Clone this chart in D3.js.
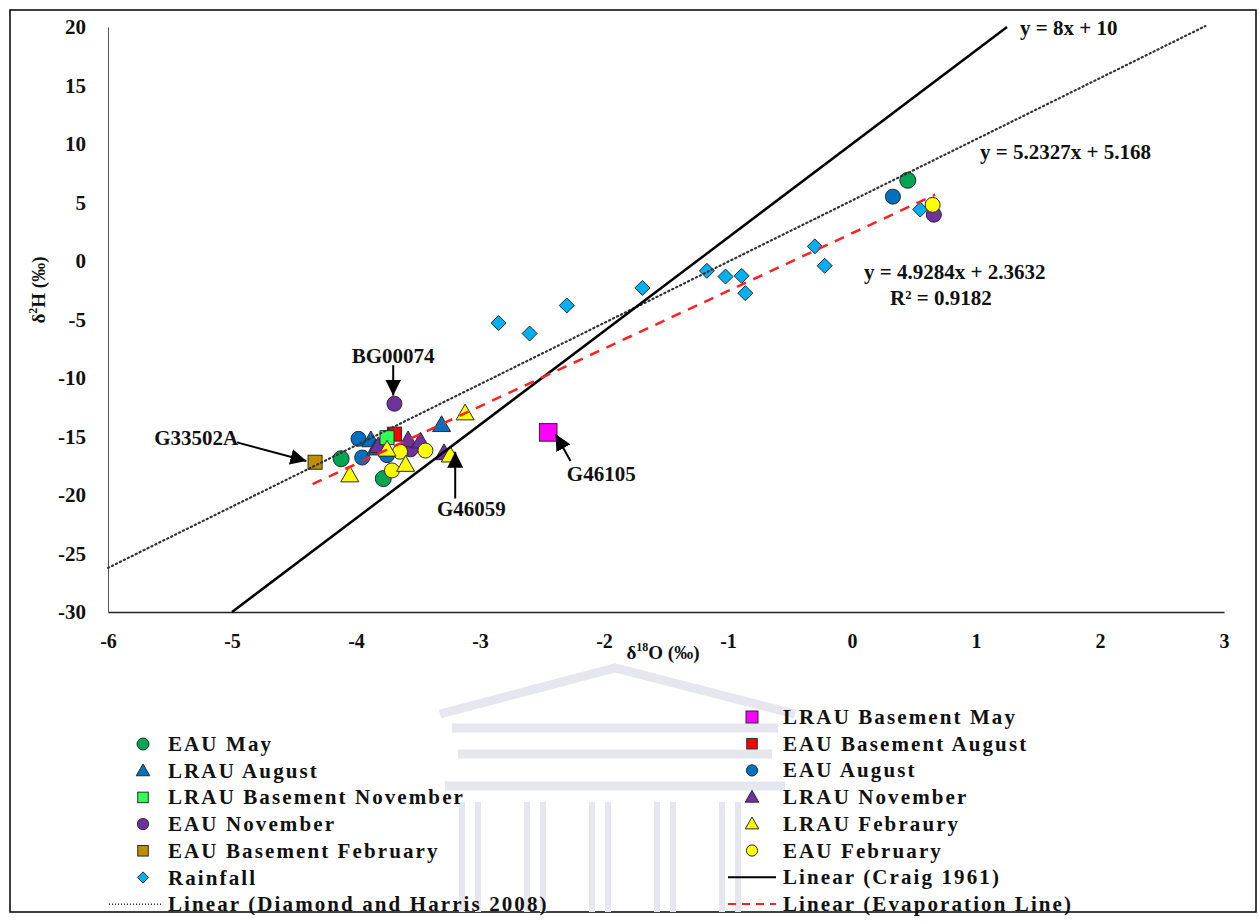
<!DOCTYPE html>
<html>
<head>
<meta charset="utf-8">
<script src="https://cdn.jsdelivr.net/npm/d3@7/dist/d3.min.js"></script>
<style>
  body { margin: 0; background: #fff; }
  svg text { font-family: "Liberation Serif", "Times New Roman", serif; font-weight: bold; fill: #111; }
</style>
</head>
<body>
<svg id="chart" width="1259" height="924"></svg>
<script>
// --- data (δ18O, δ2H) ---
const xTicks = [-6, -5, -4, -3, -2, -1, 0, 1, 2, 3];
const yTicks = [20, 15, 10, 5, 0, -5, -10, -15, -20, -25, -30];

const eauMay = [[-4.12, -16.9], [-3.78, -18.6], [0.45, 6.9]];
const lrauAug = [[-3.88, -15.3], [-3.84, -16.0], [-3.31, -14.0]];
const lrauBaseNov = [[-3.75, -15.1]];
const eauNov = [[-3.69, -12.2], [-3.56, -16.1], [0.66, 3.96]];
const eauBaseFeb = [[-4.33, -17.2]];
const rainfall = [[-2.85, -5.3], [-2.6, -6.2], [-2.3, -3.8], [-1.69, -2.3], [-1.17, -0.84],
                  [-1.02, -1.33], [-0.89, -1.27], [-0.86, -2.75], [-0.3, 1.25], [-0.22, -0.41], [0.55, 4.4]];
const lrauBaseMay = [[-2.45, -14.65]];
const eauBaseAug = [[-3.69, -14.8]];
const eauAug = [[-3.98, -15.2], [-3.95, -16.8], [-3.75, -16.6], [0.33, 5.5]];
const lrauNov = [[-3.82, -15.8], [-3.58, -15.3], [-3.48, -15.4], [-3.29, -16.4]];
const lrauFeb = [[-4.05, -18.3], [-3.75, -16.1], [-3.6, -17.4], [-3.12, -13.0], [-3.24, -16.6]];
const eauFeb = [[-3.71, -17.9], [-3.645, -16.3], [-3.44, -16.2], [0.65, 4.8]];

// reference lines: slope, intercept, x range
const craig = { m: 8, b: 10, x: [-5, 1.25] };
const diamond = { m: 5.2327, b: 5.168, x: [-6, 2.85] };
const evap = { m: 4.9284, b: 2.3632, x: [-4.35, 0.67] };

// annotations: label, text anchor point, arrow tail, arrow tip (data units)
const notes = [
  { label: 'BG00074', anchor: 'middle', t: [-3.70, -8.7], a: [-3.70, -8.9], b: [-3.70, -11.5] },
  { label: 'G33502A', anchor: 'end', t: [-4.95, -15.7], a: [-4.96, -15.5], b: [-4.40, -17.1] },
  { label: 'G46059', anchor: 'middle', t: [-3.07, -21.8], a: [-3.20, -20.3], b: [-3.20, -16.3] },
  { label: 'G46105', anchor: 'start', t: [-2.30, -18.8], a: [-2.27, -17.1], b: [-2.39, -14.8] }
];

const svg = d3.select('#chart');

// outer frame
svg.append('rect').attr('x', 10).attr('y', 10).attr('width', 1246).attr('height', 902)
  .attr('fill', 'none').attr('stroke', '#000').attr('stroke-width', 1.5);

// faint watermark behind the legend
const wm = svg.append('g').attr('fill', 'none').attr('stroke', '#e6e6ee').attr('stroke-width', 9);
wm.append('path').attr('d', 'M440,714 L615,668 L795,714');
wm.append('line').attr('x1', 452).attr('x2', 778).attr('y1', 728).attr('y2', 728);
wm.append('line').attr('x1', 458).attr('x2', 772).attr('y1', 754).attr('y2', 754);
wm.append('line').attr('x1', 445).attr('x2', 785).attr('y1', 786).attr('y2', 786);
[470, 535, 600, 665, 730].forEach(cx => {
  wm.append('line').attr('x1', cx - 8).attr('x2', cx - 8).attr('y1', 802).attr('y2', 912).attr('stroke-width', 6);
  wm.append('line').attr('x1', cx + 8).attr('x2', cx + 8).attr('y1', 802).attr('y2', 912).attr('stroke-width', 6);
});

const x = d3.scaleLinear().domain([-6, 3]).range([108, 1224]);
const y = d3.scaleLinear().domain([-30, 20]).range([612, 27]);

// axes
const xAxis = svg.append('g').attr('transform', `translate(0,${y(-30)})`)
  .call(d3.axisBottom(x).tickValues(xTicks).tickSize(0).tickPadding(22).tickFormat(d => String(d)));
xAxis.select('.domain').attr('stroke', '#222').attr('stroke-width', 1.5);
xAxis.selectAll('text').style('font-size', '20px').style('font-family', '"Liberation Serif", serif');

const yAxis = svg.append('g').attr('transform', `translate(${x(-6)},0)`)
  .call(d3.axisLeft(y).tickValues(yTicks).tickSize(0).tickPadding(22).tickFormat(d => String(d)));
yAxis.select('.domain').attr('stroke', '#555').attr('stroke-width', 1);
yAxis.selectAll('text').style('font-size', '21px').style('font-family', '"Liberation Serif", serif');

// axis titles
const xt = svg.append('text').attr('x', 663).attr('y', 659).attr('text-anchor', 'middle').style('font-size', '19px');
xt.append('tspan').text('δ');
xt.append('tspan').attr('dy', -8).style('font-size', '12px').text('18');
xt.append('tspan').attr('dy', 8).text('O (‰)');

const yt = svg.append('text').attr('transform', 'translate(45,290) rotate(-90)').attr('text-anchor', 'middle').style('font-size', '19px');
yt.append('tspan').text('δ');
yt.append('tspan').attr('dy', -8).style('font-size', '12px').text('2');
yt.append('tspan').attr('dy', 8).text('H (‰)');

// marker styles
const S = {
  eauMay: { shape: 'circle', fill: '#00a651', size: 8 },
  lrauAug: { shape: 'triangle', fill: '#0070c0', size: 9 },
  lrauBaseNov: { shape: 'square', fill: '#33ff55', size: 7 },
  eauNov: { shape: 'circle', fill: '#7030a0', size: 7.5 },
  eauBaseFeb: { shape: 'square', fill: '#bf8f00', size: 7 },
  rainfall: { shape: 'diamond', fill: '#00b0f0', size: 7.5 },
  lrauBaseMay: { shape: 'square', fill: '#ff00ff', size: 8 },
  eauBaseAug: { shape: 'square', fill: '#ff0000', size: 7 },
  eauAug: { shape: 'circle', fill: '#0070c0', size: 7.5 },
  lrauNov: { shape: 'triangle', fill: '#7030a0', size: 9 },
  lrauFeb: { shape: 'triangle', fill: '#ffff00', size: 9 },
  eauFeb: { shape: 'circle', fill: '#ffff00', size: 7.5 }
};

function marker(g, st, cx, cy, k) {
  const s = st.size * (k || 1);
  let el;
  if (st.shape === 'circle') {
    el = g.append('circle').attr('cx', cx).attr('cy', cy).attr('r', s);
  } else if (st.shape === 'square') {
    el = g.append('rect').attr('x', cx - s).attr('y', cy - s).attr('width', 2 * s).attr('height', 2 * s);
  } else if (st.shape === 'diamond') {
    el = g.append('path').attr('d', `M${cx},${cy - s}L${cx + s},${cy}L${cx},${cy + s}L${cx - s},${cy}Z`);
  } else {
    el = g.append('path').attr('d', `M${cx},${cy - s}L${cx + s},${cy + s * 0.75}L${cx - s},${cy + s * 0.75}Z`);
  }
  el.attr('fill', st.fill).attr('stroke', '#2a2a2a').attr('stroke-width', 1);
}

const series = [
  ['rainfall', rainfall], ['eauMay', eauMay], ['eauAug', eauAug], ['lrauAug', lrauAug],
  ['eauNov', eauNov], ['lrauNov', lrauNov], ['eauBaseAug', eauBaseAug], ['lrauBaseNov', lrauBaseNov],
  ['eauBaseFeb', eauBaseFeb], ['lrauBaseMay', lrauBaseMay], ['eauFeb', eauFeb], ['lrauFeb', lrauFeb]
];
const pts = svg.append('g');
series.forEach(([key, arr]) => {
  arr.forEach(d => marker(pts, S[key], x(d[0]), y(d[1]), key === 'lrauBaseMay' ? 1.1 : 1));
});

// regression / reference lines (drawn over markers)
function refLine(L) {
  return svg.append('line')
    .attr('x1', x(L.x[0])).attr('y1', y(L.m * L.x[0] + L.b))
    .attr('x2', x(L.x[1])).attr('y2', y(L.m * L.x[1] + L.b))
    .attr('fill', 'none');
}
refLine(diamond).attr('stroke', '#333').attr('stroke-width', 2.2).attr('stroke-dasharray', '1.2 3.2').attr('stroke-linecap', 'round');
refLine(craig).attr('stroke', '#000').attr('stroke-width', 2.5);
refLine(evap).attr('stroke', '#ff2020').attr('stroke-width', 2.5).attr('stroke-dasharray', '10 8');

// equations
const eq = svg.append('g').style('font-size', '21px');
eq.append('text').attr('x', 1020).attr('y', 35).text('y = 8x + 10');
eq.append('text').attr('x', 980).attr('y', 159).text('y = 5.2327x + 5.168');
eq.append('text').attr('x', 864).attr('y', 279).text('y = 4.9284x + 2.3632');
eq.append('text').attr('x', 890).attr('y', 305).text('R² = 0.9182');

// annotations with arrows
svg.append('defs').append('marker').attr('id', 'arrow').attr('viewBox', '0 0 10 10')
  .attr('refX', 10).attr('refY', 5).attr('markerWidth', 16).attr('markerHeight', 16)
  .attr('markerUnits', 'userSpaceOnUse').attr('orient', 'auto')
  .append('path').attr('d', 'M0,0L10,5L0,10Z').attr('fill', '#000');

notes.forEach(n => {
  svg.append('line').attr('x1', x(n.a[0])).attr('y1', y(n.a[1])).attr('x2', x(n.b[0])).attr('y2', y(n.b[1]))
    .attr('stroke', '#000').attr('stroke-width', 2).attr('marker-end', 'url(#arrow)');
  svg.append('text').attr('x', x(n.t[0])).attr('y', y(n.t[1])).attr('text-anchor', n.anchor)
    .style('font-size', '21px').text(n.label);
});

// legend
const legLeft = [
  ['eauMay', 'EAU May'], ['lrauAug', 'LRAU August'], ['lrauBaseNov', 'LRAU Basement November'],
  ['eauNov', 'EAU November'], ['eauBaseFeb', 'EAU Basement February'], ['rainfall', 'Rainfall'],
  ['diamond', 'Linear (Diamond and Harris 2008)']
];
const legRight = [
  ['lrauBaseMay', 'LRAU Basement May'], ['eauBaseAug', 'EAU Basement August'], ['eauAug', 'EAU August'],
  ['lrauNov', 'LRAU November'], ['lrauFeb', 'LRAU Febraury'], ['eauFeb', 'EAU February'],
  ['craig', 'Linear (Craig 1961)'], ['evap', 'Linear (Evaporation Line)']
];

function legend(items, mx, tx, y0) {
  const g = svg.append('g');
  items.forEach(([key, label], i) => {
    const cy = y0 + i * 26.7;
    if (key === 'diamond') {
      g.append('line').attr('x1', mx - 34).attr('x2', mx + 18).attr('y1', cy).attr('y2', cy)
        .attr('stroke', '#333').attr('stroke-width', 1.5).attr('stroke-dasharray', '1 2');
    } else if (key === 'craig') {
      g.append('line').attr('x1', mx - 24).attr('x2', mx + 24).attr('y1', cy).attr('y2', cy)
        .attr('stroke', '#000').attr('stroke-width', 2);
    } else if (key === 'evap') {
      g.append('line').attr('x1', mx - 24).attr('x2', mx + 24).attr('y1', cy).attr('y2', cy)
        .attr('stroke', '#ff2020').attr('stroke-width', 2).attr('stroke-dasharray', '8 6');
    } else {
      marker(g, S[key], mx, cy, 0.75);
    }
    g.append('text').attr('x', tx).attr('y', cy + 7).style('font-size', '21px')
      .style('letter-spacing', '2.1px').text(label);
  });
}
legend(legLeft, 143, 168, 744);
legend(legRight, 752, 783, 717);
</script>
</body>
</html>
